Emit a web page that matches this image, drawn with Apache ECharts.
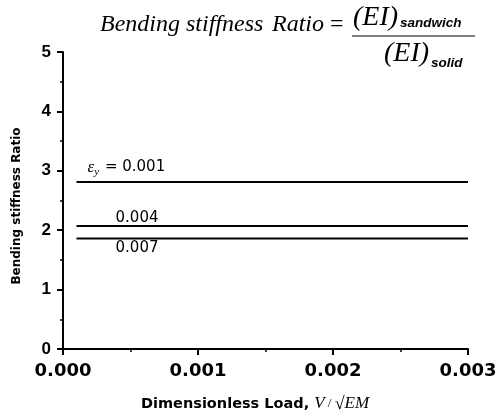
<!DOCTYPE html>
<html><head><meta charset="utf-8">
<script src="https://cdn.jsdelivr.net/npm/echarts@6/dist/echarts.min.js"></script>
<style>html,body{margin:0;padding:0;background:#fff}#c{width:500px;height:419px}</style>
</head><body><div id="c"></div>
<script>
const xStart = 0.0001, xEnd = 0.003;
const seriesNames = ['0.001', '0.004', '0.007'];
const ratioValues = [2.81, 2.07, 1.86];
const xTicks = [0, 0.001, 0.002, 0.003];
const yTicks = [0, 1, 2, 3, 4, 5];

const chart = echarts.init(document.getElementById('c'));
const serif = 'Liberation Serif';
const sans = 'Liberation Sans';
const dv = 'DejaVu Sans';

const labelCfg = [
  {offset: [11, -15], formatter: '{e|ε}{s|y}{n| = 0.001}'},
  {offset: [39, -8], formatter: '{n|0.004}'},
  {offset: [39, 10], formatter: '{n|0.007}'}
];
const rich = {
  e: {fontFamily: serif, fontStyle: 'italic', fontSize: 17, color: '#000'},
  s: {fontFamily: serif, fontStyle: 'italic', fontSize: 11, color: '#000', padding: [10, 1, 0, 0]},
  n: {fontFamily: dv, fontSize: 15, color: '#000'}
};

const series = seriesNames.map((n, i) => ({
  name: n, type: 'line', symbol: 'circle', symbolSize: 0.1, showSymbol: true,
  itemStyle: {color: '#000'},
  lineStyle: {color: '#000', width: 2},
  data: [
    {value: [xStart, ratioValues[i]],
     label: Object.assign({show: true, position: 'right', distance: 0, rich: rich}, labelCfg[i])},
    [xEnd, ratioValues[i]]
  ],
  label: {show: false},
  emphasis: {disabled: true},
  animation: false
}));

chart.setOption({
  animation: false,
  grid: {left: 63, right: 32, top: 52, bottom: 70},
  xAxis: {
    type: 'value', min: 0, max: 0.003, interval: 0.001,
    axisLine: {lineStyle: {color: '#000', width: 2}},
    axisTick: {inside: false, length: 6, lineStyle: {color: '#000', width: 2}},
    minorTick: {show: true, splitNumber: 2, length: 3, lineStyle: {color: '#000', width: 1.5}},
    splitLine: {show: false},
    axisLabel: {color: '#000', fontFamily: dv, fontWeight: 'bold', fontSize: 18, margin: 13,
      formatter: v => v.toFixed(3)}
  },
  yAxis: {
    type: 'value', min: 0, max: 5, interval: 1,
    axisLine: {show: true, lineStyle: {color: '#000', width: 2}},
    axisTick: {show: true, inside: false, length: 6, lineStyle: {color: '#000', width: 2}},
    minorTick: {show: true, splitNumber: 2, length: 3, lineStyle: {color: '#000', width: 1.5}},
    splitLine: {show: false},
    axisLabel: {color: '#000', fontFamily: sans, fontWeight: 'bold', fontSize: 17, margin: 12}
  },
  graphic: [
    // y-axis title
    {type: 'text', x: 17, y: 206, rotation: Math.PI / 2, style: {
      text: 'Bending stiffness Ratio', fontFamily: dv, fontWeight: 'bold', fontSize: 12,
      fill: '#000', align: 'center', verticalAlign: 'middle'}},
    // x-axis title
    {type: 'text', left: 141, top: 395, style: {
      text: '{a|Dimensionless Load, }{b|V}{c| / }{d|√}{b|EM}',
      rich: {
        a: {fontFamily: dv, fontWeight: 'bold', fontSize: 14.5, color: '#000'},
        b: {fontFamily: serif, fontStyle: 'italic', fontSize: 17, color: '#000'},
        c: {fontFamily: serif, fontSize: 13, color: '#000'},
        d: {fontFamily: serif, fontSize: 18, color: '#000'}
      }}},
    // formula title
    {type: 'text', left: 100, top: 13, style: {text: 'Bending', fontFamily: serif, fontStyle: 'italic', fontSize: 24, fill: '#000'}},
    {type: 'text', left: 186, top: 13, style: {text: 'stiffness', fontFamily: serif, fontStyle: 'italic', fontSize: 24, fill: '#000'}},
    {type: 'text', left: 272, top: 13, style: {text: 'Ratio', fontFamily: serif, fontStyle: 'italic', fontSize: 24, fill: '#000'}},
    {type: 'text', left: 330, top: 13, style: {text: '=', fontFamily: serif, fontSize: 24, fill: '#000'}},
    {type: 'text', left: 353, top: 4, style: {text: '(EI)', fontFamily: serif, fontStyle: 'italic', fontSize: 28, fill: '#000'}},
    {type: 'text', left: 400, top: 16, style: {text: 'sandwich', fontFamily: sans, fontStyle: 'italic', fontWeight: 'bold', fontSize: 13.5, fill: '#000'}},
    {type: 'line', shape: {x1: 352, y1: 36, x2: 475, y2: 36}, style: {stroke: '#000', lineWidth: 1.2}},
    {type: 'text', left: 384, top: 40, style: {text: '(EI)', fontFamily: serif, fontStyle: 'italic', fontSize: 28, fill: '#000'}},
    {type: 'text', left: 431, top: 56, style: {text: 'solid', fontFamily: sans, fontStyle: 'italic', fontWeight: 'bold', fontSize: 13.5, fill: '#000'}}
  ],
  series: series
});
</script></body></html>
